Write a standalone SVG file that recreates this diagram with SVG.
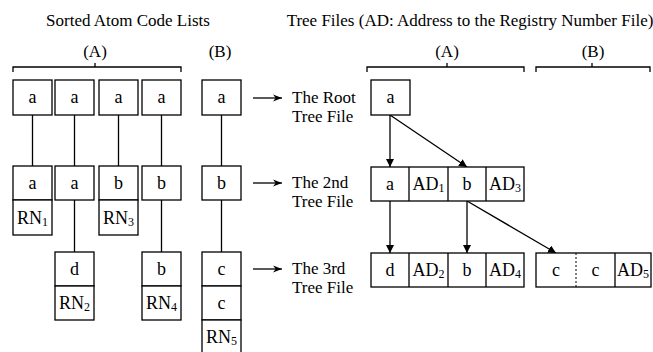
<svg xmlns="http://www.w3.org/2000/svg" width="653" height="352" viewBox="0 0 653 352" font-family="'Liberation Serif', 'DejaVu Serif', serif">
<style>
.box{fill:#fff;stroke:#000;stroke-width:1.3}
.ln{stroke:#000;stroke-width:1.3;fill:none}
.dash{stroke:#000;stroke-width:1;stroke-dasharray:2,2}
text{font-family:'Liberation Serif','DejaVu Serif',serif;font-size:17px;fill:#000}
.c{text-anchor:middle}
.bx{font-size:18px}
.sub{font-size:12px}
</style>
<defs>
<marker id="tri" viewBox="0 0 10 10" refX="10" refY="5" markerWidth="8" markerHeight="8" markerUnits="userSpaceOnUse" orient="auto">
<path d="M0,0 L10,5 L0,10 z" fill="#000"/>
</marker>
<marker id="barb" viewBox="0 0 10 10" refX="10" refY="5" markerWidth="9" markerHeight="9" markerUnits="userSpaceOnUse" orient="auto">
<path d="M0,1 L10,5 L0,9 L3,5 z" fill="#000"/>
</marker>
</defs>

<g id="titles">
<text class="c" x="128" y="26">Sorted Atom Code Lists</text>
<text class="c" x="470" y="26">Tree Files (AD: Address to the Registry Number File)</text>
<text class="c" x="95" y="57">(A)</text>
<text class="c" x="220" y="57">(B)</text>
<text class="c" x="447" y="57">(A)</text>
<text class="c" x="593" y="57">(B)</text>
</g>

<g id="braces">
<path class="ln" d="M13,72 V67 H181 V72 M95,67 V63"/>
<path class="ln" d="M367,72 V67 H524 V72 M447,67 V63"/>
<path class="ln" d="M536,72 V67 H650 V72 M592,67 V63"/>
</g>

<g id="connectors">
<path class="ln" d="M32.5,115 V166 M74.5,115 V166 M118.5,115 V166 M161.5,115 V166 M221.5,115 V166"/>
<path class="ln" d="M74.5,200 V252 M161.5,200 V252 M221.5,200 V252"/>
<line class="ln" x1="253" y1="98" x2="282" y2="98" marker-end="url(#barb)"/>
<line class="ln" x1="253" y1="183" x2="282" y2="183" marker-end="url(#barb)"/>
<line class="ln" x1="253" y1="269" x2="282" y2="269" marker-end="url(#barb)"/>
<line class="ln" x1="390" y1="115" x2="390" y2="167" marker-end="url(#tri)"/>
<line class="ln" x1="390" y1="115" x2="467" y2="167" marker-end="url(#tri)"/>
<line class="ln" x1="390" y1="201" x2="390" y2="253" marker-end="url(#tri)"/>
<line class="ln" x1="467" y1="201" x2="467" y2="253" marker-end="url(#tri)"/>
<line class="ln" x1="467" y1="201" x2="556" y2="253" marker-end="url(#tri)"/>
</g>

<g id="list-a1">
<rect class="box" x="13" y="80" width="39" height="35"/><text class="c bx" x="32.5" y="103">a</text>
<rect class="box" x="13" y="166" width="39" height="34"/><text class="c bx" x="32.5" y="188.5">a</text>
<rect class="box" x="13" y="200" width="39" height="35"/><text class="c bx" x="32.5" y="223.5">RN<tspan class="sub" dy="2">1</tspan></text>
</g>
<g id="list-a2">
<rect class="box" x="55" y="80" width="39" height="35"/><text class="c bx" x="74.5" y="103">a</text>
<rect class="box" x="55" y="166" width="39" height="34"/><text class="c bx" x="74.5" y="188.5">a</text>
<rect class="box" x="55" y="252" width="39" height="34"/><text class="c bx" x="74.5" y="274.5">d</text>
<rect class="box" x="55" y="286" width="39" height="34"/><text class="c bx" x="74.5" y="309">RN<tspan class="sub" dy="2">2</tspan></text>
</g>
<g id="list-a3">
<rect class="box" x="99" y="80" width="39" height="35"/><text class="c bx" x="118.5" y="103">a</text>
<rect class="box" x="99" y="166" width="39" height="34"/><text class="c bx" x="118.5" y="188.5">b</text>
<rect class="box" x="99" y="200" width="39" height="35"/><text class="c bx" x="118.5" y="223.5">RN<tspan class="sub" dy="2">3</tspan></text>
</g>
<g id="list-a4">
<rect class="box" x="142" y="80" width="39" height="35"/><text class="c bx" x="161.5" y="103">a</text>
<rect class="box" x="142" y="166" width="39" height="34"/><text class="c bx" x="161.5" y="188.5">b</text>
<rect class="box" x="142" y="252" width="39" height="34"/><text class="c bx" x="161.5" y="274.5">b</text>
<rect class="box" x="142" y="286" width="39" height="34"/><text class="c bx" x="161.5" y="309">RN<tspan class="sub" dy="2">4</tspan></text>
</g>
<g id="list-b">
<rect class="box" x="202" y="80" width="39" height="35"/><text class="c bx" x="221.5" y="103">a</text>
<rect class="box" x="202" y="166" width="39" height="34"/><text class="c bx" x="221.5" y="188.5">b</text>
<rect class="box" x="202" y="252" width="39" height="34"/><text class="c bx" x="221.5" y="274.5">c</text>
<rect class="box" x="202" y="286" width="39" height="34"/><text class="c bx" x="221.5" y="308.5">c</text>
<rect class="box" x="202" y="320" width="39" height="36"/><text class="c bx" x="221.5" y="342.5">RN<tspan class="sub" dy="2">5</tspan></text>
</g>

<g id="label-root">
<text x="292" y="103">The Root</text>
<text x="292" y="122">Tree File</text>
</g>
<g id="label-2nd">
<text x="292" y="188">The 2nd</text>
<text x="292" y="207">Tree File</text>
</g>
<g id="label-3rd">
<text x="292" y="274">The 3rd</text>
<text x="292" y="293">Tree File</text>
</g>

<g id="root-file">
<rect class="box" x="371" y="80" width="39" height="35"/><text class="c bx" x="390.5" y="103">a</text>
</g>
<g id="second-file">
<rect class="box" x="371" y="167" width="153" height="34"/>
<path class="ln" d="M409,167 V201 M448,167 V201 M486,167 V201"/>
<text class="c bx" x="390" y="189.5">a</text>
<text class="c bx" x="428.5" y="189.5">AD<tspan class="sub" dy="2">1</tspan></text>
<text class="c bx" x="467" y="189.5">b</text>
<text class="c bx" x="505" y="189.5">AD<tspan class="sub" dy="2">3</tspan></text>
</g>
<g id="third-file-a">
<rect class="box" x="371" y="253" width="153" height="34"/>
<path class="ln" d="M409,253 V287 M448,253 V287 M486,253 V287"/>
<text class="c bx" x="390" y="275.5">d</text>
<text class="c bx" x="428.5" y="275.5">AD<tspan class="sub" dy="2">2</tspan></text>
<text class="c bx" x="467" y="275.5">b</text>
<text class="c bx" x="505" y="275.5">AD<tspan class="sub" dy="2">4</tspan></text>
</g>
<g id="third-file-b">
<rect class="box" x="536" y="253" width="115" height="34"/>
<line class="dash" x1="576" y1="253" x2="576" y2="287"/>
<line class="ln" x1="615" y1="253" x2="615" y2="287"/>
<text class="c bx" x="556" y="275.5">c</text>
<text class="c bx" x="595.5" y="275.5">c</text>
<text class="c bx" x="633" y="275.5">AD<tspan class="sub" dy="2">5</tspan></text>
</g>
</svg>
